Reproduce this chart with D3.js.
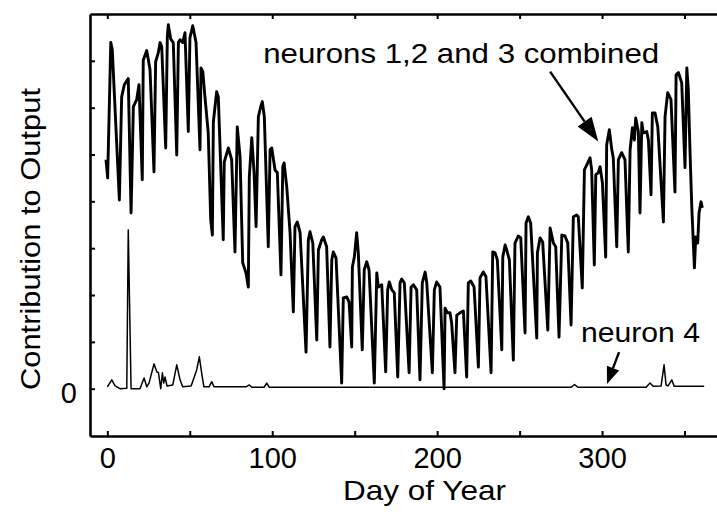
<!DOCTYPE html>
<html>
<head>
<meta charset="utf-8">
<script src="https://cdn.jsdelivr.net/npm/d3@7"></script>
<style>
  html, body { margin: 0; padding: 0; background: #fff; }
  svg { display: block; }
  text { font-family: "Liberation Sans", Arial, Helvetica, sans-serif; fill: #000; }
</style>
</head>
<body>
<svg id="chart" width="717" height="525"></svg>
<script>
// neurons 1,2 and 3 combined: vertices (day, output)
const combinedDays = [
  -0.8,0.2,2.1,3.0,7.3,8.7,10.3,12.7,14.4,15.8,
  17.8,19.2,21.2,21.8,23.9,25.9,28.3,29.3,30.9,32.0,
  33.0,35.4,36.4,37.0,38.4,40.0,42.1,43.1,44.1,45.7,
  47.1,49.1,50.1,51.8,53.8,56.2,56.8,57.9,59.2,61.2,
  62.7,63.7,64.3,66.3,67.3,70.3,70.9,73.4,75.4,77.4,
  78.8,80.5,82.1,84.1,85.5,86.1,87.6,89.0,90.2,91.6,
  93.0,94.0,95.2,97.6,98.7,99.7,101.7,103.1,105.3,106.4,
  107.2,108.8,110.8,112.8,113.8,115.2,116.9,120.5,121.9,122.9,
  124.6,127.0,128.0,130.0,131.0,133.0,135.0,136.1,137.0,138.7,
  142.1,143.1,145.2,146.6,148.2,148.6,149.8,151.2,152.2,154.6,
  155.8,157.3,158.7,161.9,163.4,164.3,166.4,168.8,170.0,171.0,
  172.5,174.0,176.1,177.5,178.5,180.1,183.0,184.2,185.6,187.6,
  189.6,191.0,192.7,193.7,197.1,198.3,199.7,201.7,204.2,204.8,
  206.2,207.8,208.8,210.8,211.9,213.9,215.9,217.9,218.9,220.4,
  222.4,225.0,226.0,228.0,229.6,232.7,233.7,235.1,236.5,239.2,
  239.8,241.2,242.2,243.8,246.2,247.2,249.2,250.7,253.3,253.9,
  255.3,256.7,260.4,260.8,262.4,264.0,267.1,268.5,270.5,271.9,
  273.9,275.6,277.5,279.2,281.2,282.6,284.6,285.6,288.0,289.3,
  291.3,292.7,293.7,295.3,296.2,297.7,298.8,300.2,302.2,302.8,
  304.4,305.9,306.8,308.9,309.9,311.9,313.9,315.9,317.0,318.4,
  319.6,320.4,322.0,323.0,324.1,325.0,327.1,328.1,329.7,330.5,
  332.1,333.8,337.2,338.2,339.8,341.8,344.2,344.9,346.3,348.3,
  350.3,351.4,352.3,353.3,354.4,356.0,356.8,358.0,358.8,360.0,360.8
];
const combinedValues = [
  0.489,0.450,0.739,0.724,0.403,0.623,0.649,0.662,0.375,0.602,
  0.617,0.649,0.446,0.702,0.722,0.681,0.463,0.698,0.717,0.739,
  0.730,0.514,0.752,0.777,0.747,0.739,0.499,0.739,0.745,0.739,
  0.760,0.549,0.749,0.775,0.739,0.510,0.685,0.677,0.623,0.546,
  0.361,0.328,0.570,0.634,0.623,0.318,0.484,0.514,0.489,0.292,
  0.559,0.495,0.269,0.247,0.217,0.452,0.536,0.461,0.346,0.581,
  0.602,0.613,0.581,0.303,0.510,0.514,0.467,0.461,0.243,0.474,
  0.482,0.431,0.333,0.164,0.346,0.356,0.333,0.078,0.318,0.335,
  0.311,0.104,0.296,0.318,0.324,0.303,0.089,0.275,0.292,0.279,
  0.012,0.194,0.196,0.185,0.089,0.260,0.281,0.333,0.290,0.083,
  0.254,0.271,0.254,0.012,0.247,0.217,0.222,0.036,0.211,0.228,
  0.211,0.205,0.025,0.226,0.234,0.226,0.034,0.217,0.222,0.211,
  0.019,0.226,0.249,0.226,0.034,0.211,0.228,0.217,0.000,0.172,
  0.162,0.162,0.140,0.034,0.157,0.162,0.166,0.025,0.226,0.230,
  0.217,0.046,0.237,0.249,0.239,0.034,0.292,0.290,0.275,0.083,
  0.281,0.307,0.296,0.275,0.061,0.311,0.326,0.322,0.119,0.354,
  0.367,0.354,0.108,0.290,0.322,0.313,0.125,0.343,0.311,0.303,
  0.110,0.328,0.326,0.311,0.136,0.367,0.371,0.367,0.215,0.467,
  0.482,0.493,0.467,0.264,0.457,0.461,0.474,0.440,0.281,0.521,
  0.553,0.510,0.493,0.303,0.489,0.504,0.489,0.292,0.510,0.557,
  0.531,0.578,0.549,0.375,0.568,0.546,0.549,0.531,0.414,0.589,
  0.589,0.559,0.356,0.581,0.632,0.617,0.420,0.670,0.675,0.653,
  0.472,0.685,0.638,0.510,0.388,0.258,0.324,0.311,0.375,0.399,0.386
];

// neuron 4
const neuron4Days = [
  0,2.7,4.7,7.7,11.8,12.7,14.4,19.8,22.3,23.9,
  25.3,28.3,30.0,31.0,32.4,33.4,34.2,35.0,36.2,39.7,
  42.1,44.1,45.7,50.8,54.2,55.8,57.4,58.6,61.7,63.3,
  64.7,84.1,86.1,87.7,95.0,96.7,98.2,281.3,283.3,285.3,
  326.7,329.1,331.0,335.8,337.6,338.8,340.0,342.3,343.7,361.9
];
const neuron4Values = [
  0.004,0.019,0.006,0.000,0.001,0.339,0.000,0.000,0.023,0.004,
  0.012,0.053,0.036,0.034,0.000,0.034,0.012,0.025,0.006,0.008,
  0.051,0.019,0.004,0.006,0.040,0.068,0.029,0.004,0.004,0.015,
  0.004,0.004,0.008,0.003,0.003,0.012,0.003,0.003,0.009,0.003,
  0.003,0.012,0.005,0.006,0.051,0.008,0.006,0.019,0.005,0.005
];

const xTicks = [0, 50, 100, 150, 200, 250, 300, 350];
const xTickLabels = [0, 100, 200, 300];
const yTicks = [0, 0.1, 0.2, 0.3, 0.4, 0.5, 0.6, 0.7];
const yTickLabels = [0];

const svg = d3.select("svg#chart");

const x = d3.scaleLinear().domain([-10.5, 372]).range([90, 720.8]);
const y = d3.scaleLinear().domain([-0.101, 0.8]).range([436, 14]);

function styleAxis(g) {
  g.select(".domain").attr("stroke", "#000").attr("stroke-width", 2.6);
  g.selectAll(".tick line").attr("stroke", "#000").attr("stroke-width", 2);
  g.selectAll(".tick text").attr("font-size", 29).attr("fill", "#000")
    .attr("font-family", "'Liberation Sans', Arial, Helvetica, sans-serif");
}

svg.append("g")
  .attr("transform", `translate(0,${y.range()[0]})`)
  .call(d3.axisBottom(x).tickValues(xTicks).tickSizeInner(-5).tickSizeOuter(0).tickPadding(11)
    .tickFormat(d => xTickLabels.includes(d) ? d : ""))
  .call(styleAxis);

svg.append("g")
  .attr("transform", `translate(0,${y.range()[1]})`)
  .call(d3.axisTop(x).tickValues(xTicks).tickSizeInner(-5).tickSizeOuter(0).tickFormat(""))
  .call(styleAxis);

svg.append("g")
  .attr("transform", `translate(${x.range()[0]},0)`)
  .call(d3.axisLeft(y).tickValues(yTicks).tickSizeInner(-5).tickSizeOuter(0).tickPadding(13)
    .tickFormat(d => yTickLabels.includes(d) ? d : ""))
  .call(styleAxis)
  .call(g => g.selectAll(".tick text").attr("dy", "0.47em"));

const line = d3.line().x(d => x(d[0])).y(d => y(d[1]));

svg.append("path")
  .datum(d3.zip(neuron4Days, neuron4Values))
  .attr("fill", "none")
  .attr("stroke", "#000")
  .attr("stroke-width", 1.5)
  .attr("stroke-linejoin", "round")
  .attr("d", line);

svg.append("path")
  .datum(d3.zip(combinedDays, combinedValues))
  .attr("fill", "none")
  .attr("stroke", "#000")
  .attr("stroke-width", 2.9)
  .attr("stroke-linejoin", "round")
  .attr("d", line);

// axis titles
svg.append("text")
  .attr("x", 424.5).attr("y", 500)
  .attr("text-anchor", "middle")
  .attr("font-size", 28)
  .attr("textLength", 163).attr("lengthAdjust", "spacingAndGlyphs")
  .text("Day of Year");

svg.append("text")
  .attr("transform", "translate(40,239) rotate(-90)")
  .attr("text-anchor", "middle")
  .attr("font-size", 28)
  .attr("textLength", 302).attr("lengthAdjust", "spacingAndGlyphs")
  .text("Contribution to Output");

// annotations
function arrow(from, to, headLen, headWidth) {
  const x0 = x(from[0]), y0 = y(from[1]), x1 = x(to[0]), y1 = y(to[1]);
  const a = Math.atan2(y1 - y0, x1 - x0);
  const bx = x1 - headLen * Math.cos(a), by = y1 - headLen * Math.sin(a);
  const nx = -Math.sin(a) * headWidth / 2, ny = Math.cos(a) * headWidth / 2;
  svg.append("line")
    .attr("x1", x0).attr("y1", y0).attr("x2", bx).attr("y2", by)
    .attr("stroke", "#000").attr("stroke-width", 2.4);
  svg.append("path")
    .attr("d", `M${x1},${y1}L${bx + nx},${by + ny}L${bx - nx},${by - ny}Z`)
    .attr("fill", "#000");
}

svg.append("text")
  .attr("x", x(94.5)).attr("y", y(0.696))
  .attr("font-size", 28)
  .attr("textLength", 396).attr("lengthAdjust", "spacingAndGlyphs")
  .text("neurons 1,2 and 3 combined");
arrow([268.5, 0.677], [297.7, 0.528], 24, 17);

svg.append("text")
  .attr("x", x(287.2)).attr("y", y(0.100))
  .attr("font-size", 28)
  .attr("textLength", 119).attr("lengthAdjust", "spacingAndGlyphs")
  .text("neuron 4");
arrow([310.3, 0.078], [303.0, 0.010], 17, 13);
</script>
</body>
</html>
